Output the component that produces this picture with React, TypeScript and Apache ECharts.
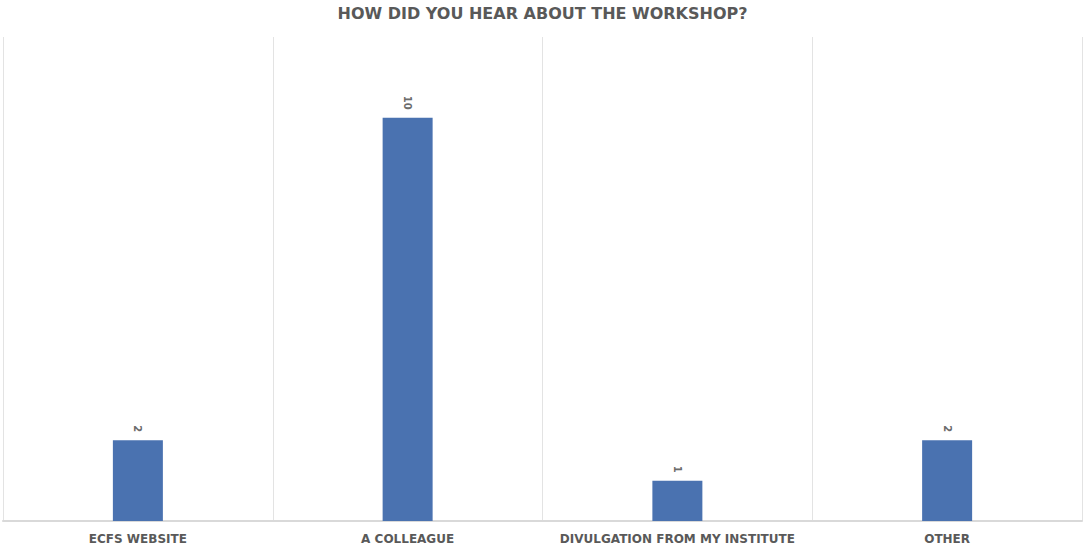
import React, { useEffect, useRef } from "react";
import * as echarts from "echarts";

const categories = ["ECFS WEBSITE", "A COLLEAGUE", "DIVULGATION FROM MY INSTITUTE", "OTHER"];
const values = [2, 10, 1, 2];
const title = "HOW DID YOU HEAR ABOUT THE WORKSHOP?";

export default function App() {
  const ref = useRef<HTMLDivElement>(null);
  useEffect(() => {
    document.body.style.margin = "0";
    const chart = echarts.init(ref.current!, null, { renderer: "svg" });
    chart.setOption({
      animation: false,
      backgroundColor: "#ffffff",
      title: {
        text: title,
        left: "center",
        top: 0,
        textStyle: { fontFamily: "DejaVu Sans", fontWeight: "bold", fontSize: 16, color: "#595959" },
      },
      grid: { left: 3, right: 3, top: 37, bottom: 28, containLabel: false },
      xAxis: {
        type: "category",
        data: categories,
        axisLine: { show: true, lineStyle: { color: "#d9d9d9", width: 2 } },
        axisTick: { show: false },
        splitLine: { show: true, interval: 0, lineStyle: { color: "#e3e3e3", width: 1 } },
        axisLabel: {
          interval: 0,
          margin: 12,
          fontFamily: "DejaVu Sans",
          fontWeight: "bold",
          fontSize: 12,
          color: "#595959",
        },
      },
      yAxis: {
        type: "value",
        min: 0,
        max: 12,
        show: false,
        splitLine: { show: false },
      },
      series: [
        {
          type: "bar",
          data: values,
          barWidth: 50,
          itemStyle: { color: "#4a72b0" },
          label: {
            show: true,
            position: "top",
            rotate: -90,
            align: "right",
            verticalAlign: "middle",
            distance: 8,
            fontFamily: "DejaVu Sans",
            fontWeight: "bold",
            fontSize: 10,
            color: "#6b6b6b",
          },
        },
      ],
    });
    return () => chart.dispose();
  }, []);
  return <div ref={ref} style={{ width: 1085, height: 549 }} />;
}
